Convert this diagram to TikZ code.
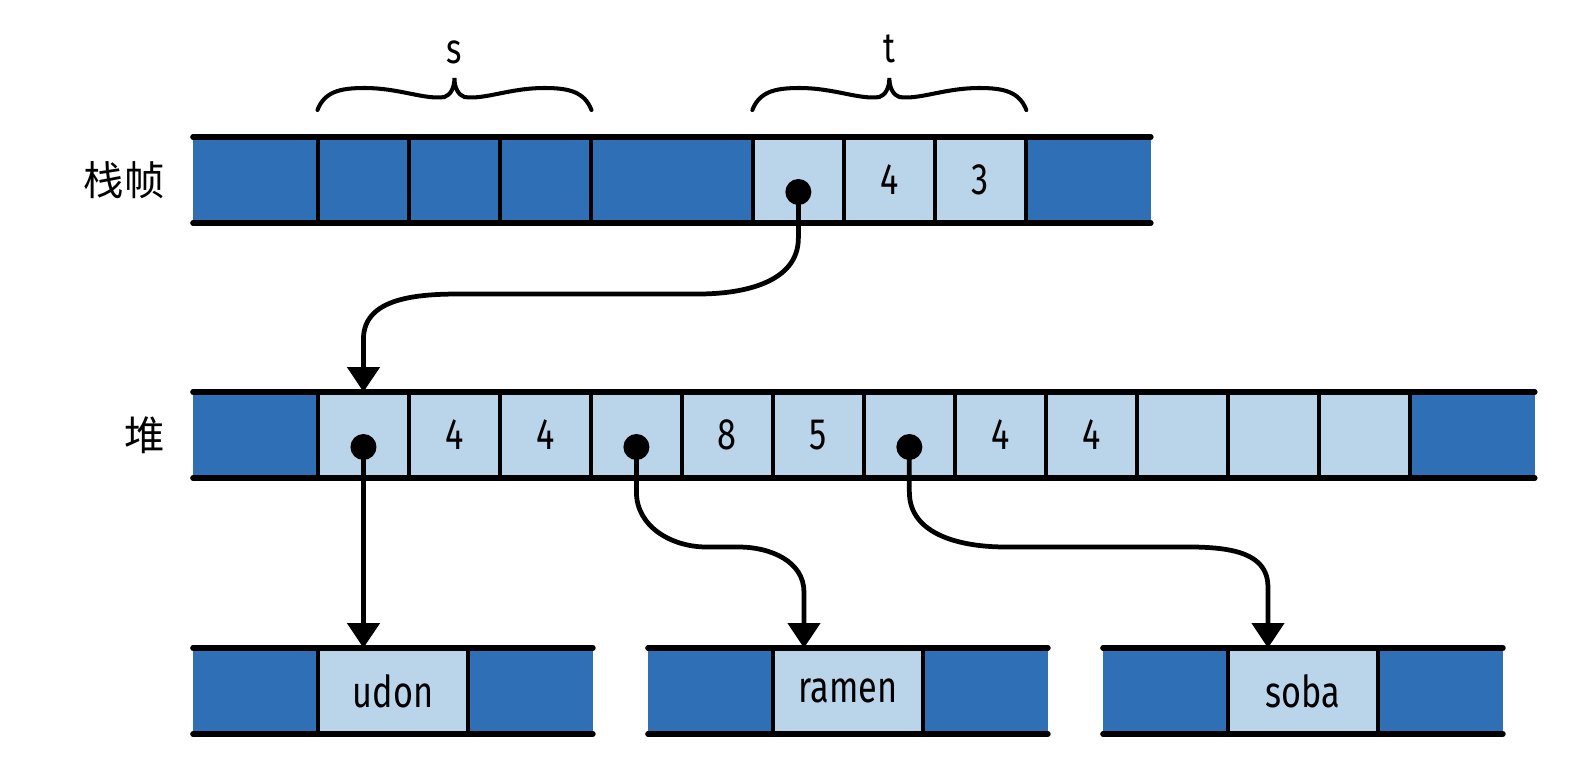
\documentclass[tikz,border=0pt]{standalone}
\usepackage{fontspec}
\setmainfont{Fira Sans}[FakeStretch=0.78]
\newfontfamily\cjkfont{Noto Sans CJK SC}
\usetikzlibrary{arrows.meta,positioning,calc}
\definecolor{deep}{RGB}{46,111,182}
\definecolor{pale}{RGB}{186,212,234}
\tikzset{
  >={Triangle[length=0.5cm,width=0.64cm]},
  slot/.style={fill=#1,minimum height=1.72cm,minimum width=1.82cm,inner sep=0pt,outer sep=0pt,
    font=\fontsize{25}{28}\selectfont},
  slot/.default=pale,
  wide/.style={slot=deep,minimum width=2.5cm},
  rowline/.style={line width=3.2pt,line cap=round},
  divider/.style={line width=2.5pt},
  dot/.style={circle,fill=black,minimum size=0.52cm,inner sep=0pt},
  link/.style={->,line width=2.7pt},
  rowlabel/.style={font=\cjkfont\fontsize{23}{26}\selectfont,inner sep=0pt},
  tag/.style={font=\fontsize{24}{28}\selectfont},
  % curly brace, 274 units wide
  pics/curly/.style={code={
    \draw[line width=2.3pt,line cap=round] (-137,0) .. controls (-130,18) and (-115,22) .. (-90,22)
      .. controls (-55,22) and (-30,10) .. (-10,13) .. controls (-4,15) and (0,22) .. (0,32)
      .. controls (0,22) and (4,15) .. (10,13) .. controls (30,10) and (55,22) .. (90,22)
      .. controls (115,22) and (130,18) .. (137,0);
  }},
}

\begin{document}
\begin{tikzpicture}[x=0.02cm,y=0.02cm]
  \useasboundingbox (0,0) rectangle (1580,768);

  % stack frame
  \node[wide,anchor=west] (f0) at (193,588) {};
  \node[slot=deep,right=0pt of f0] (f1) {};
  \node[slot=deep,right=0pt of f1] (f2) {};
  \node[slot=deep,right=0pt of f2] (f3) {};
  \node[wide,minimum width=3.24cm,right=0pt of f3] (f4) {};
  \node[slot,right=0pt of f4] (f5) {};
  \node[slot,right=0pt of f5] (f6) {4};
  \node[slot,right=0pt of f6] (f7) {3};
  \node[wide,right=0pt of f7] (f8) {};
  \draw[rowline] (f0.north west) -- (f8.north east) (f0.south west) -- (f8.south east);
  \foreach \i in {1,...,8} \draw[divider] (f\i.north west) -- (f\i.south west);
  \node[rowlabel,left=0.56cm of f0] (stk) {栈帧};

  % braces
  \pic at ($(f1.north west)!0.5!(f3.north east)+(0,27)$) {curly};
  \node[tag] (s) at ($(f1.north west)!0.5!(f3.north east)+(0,85)$) {s};
  \pic at ($(f5.north west)!0.5!(f7.north east)+(0,27)$) {curly};
  \node[tag] (t) at ($(f5.north west)!0.5!(f7.north east)+(0,88)$) {t};

  % heap
  \node[wide,anchor=west] (h0) at (193,333) {};
  \foreach \t [count=\i, remember=\i as \j (initially 0)] in {{},4,4,{},8,5,{},4,4,{},{},{}}
    \node[slot,right=0pt of h\j] (h\i) {\t};
  \node[wide,right=0pt of h12] (h13) {};
  \draw[rowline] (h0.north west) -- (h13.north east) (h0.south west) -- (h13.south east);
  \foreach \i in {1,...,13} \draw[divider] (h\i.north west) -- (h\i.south west);
  \node[rowlabel,left=0.56cm of h0] (hp) {堆};

  % strings
  \foreach \n/\x/\t in {1/193/udon,2/648/ramen,3/1103/soba}{
    \node[wide,anchor=west] (a\n) at (\x,77) {};
    \node[slot,minimum width=3cm,right=0pt of a\n] (b\n) {\t};
    \node[wide,right=0pt of b\n] (c\n) {};
    \draw[rowline] (a\n.north west) -- (c\n.north east) (a\n.south west) -- (c\n.south east);
    \draw[divider] (b\n.north west) -- (b\n.south west) (c\n.north west) -- (c\n.south west);
  }

  % pointers
  \node[dot] (fp) at ($(f5)+(0,-12)$) {};
  \node[dot] (hp1) at ($(h1)+(0,-12)$) {};
  \node[dot] (hp2) at ($(h4)+(0,-12)$) {};
  \node[dot] (hp3) at ($(h7)+(0,-12)$) {};

  \draw[link] (fp.center) -- ++(0,-46) to[out=-90,in=0] ++(-100,-56)
    -- ($(h1.north)+(97,98)$) to[out=180,in=90] ($(h1.north)+(0,53)$) -- (h1.north);
  \draw[link] (hp1.center) -- (hp1.center |- b1.north);
  \draw[link] (hp2.center) -- ++(0,-45) to[out=-90,in=180] ++(70,-55)
    -- ($(b2.north west)+(-34,101)$) to[out=0,in=90] ($(b2.north west)+(31,56)$) -- ($(b2.north west)+(31,0)$);
  \draw[link] (hp3.center) -- ++(0,-45) to[out=-90,in=180] ++(96,-55)
    -- ($(b3.north west)+(-65,101)$) to[out=0,in=90] ($(b3.north west)+(40,61)$) -- ($(b3.north west)+(40,0)$);
\end{tikzpicture}
\end{document}
